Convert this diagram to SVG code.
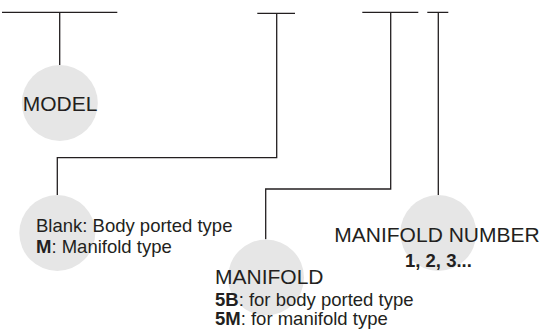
<svg xmlns="http://www.w3.org/2000/svg" width="544" height="334" viewBox="0 0 544 334">
<style>
.ln{fill:none;stroke:#231f20;stroke-width:1.3}
.dot{fill:#e6e6e6}
.t{font-family:"Liberation Sans",Arial,sans-serif;fill:#231f20}
.big{font-size:21px}
.sm{font-size:18.5px}
.b{font-weight:bold}
</style>
<rect width="544" height="334" fill="#ffffff"/>
<g id="connectors">
<path class="ln" d="M2,12.3 H117.3 M59.7,12.3 V65"/>
<path class="ln" d="M257.3,13.3 H295 M276.7,13.3 V157.7 H57.3 V195"/>
<path class="ln" d="M362.3,12.3 H418.3 M390.7,12.3 V189 H265.7 V239.3"/>
<path class="ln" d="M427.3,12.3 H448.3 M438.3,12.3 V195"/>
</g>
<g id="model">
<circle class="dot" cx="59.8" cy="103" r="38"/>
<text class="t big" x="22.7" y="111">MODEL</text>
</g>
<g id="type">
<circle class="dot" cx="57.3" cy="233" r="38"/>
<text class="t sm" x="36" y="232"><tspan>Blank: Body ported type</tspan><tspan x="36" y="252.5"><tspan class="b">M</tspan>: Manifold type</tspan></text>
</g>
<g id="manifold">
<circle class="dot" cx="266" cy="277.5" r="38"/>
<text class="t big" x="215" y="284">MANIFOLD</text>
<text class="t sm" x="215" y="305.5"><tspan class="b">5B</tspan>: for body ported type</text>
<text class="t sm" x="215" y="325"><tspan class="b">5M</tspan>: for manifold type</text>
</g>
<g id="manifold-number">
<circle class="dot" cx="438.3" cy="233" r="38"/>
<text class="t big" x="334.3" y="241.5">MANIFOLD NUMBER</text>
<text class="t sm b" x="405" y="267.3">1, 2, 3...</text>
</g>
</svg>
